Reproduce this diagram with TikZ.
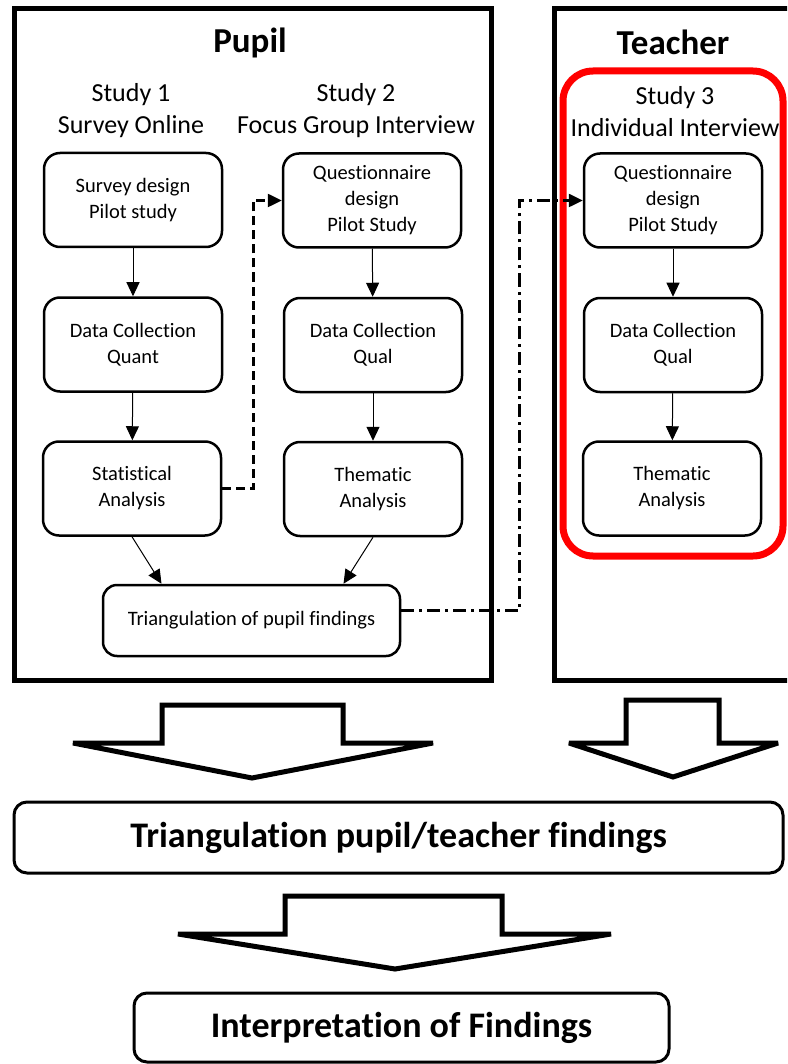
\documentclass[tikz,border=0pt]{standalone}
\usepackage{fontspec}
\setmainfont[Ligatures=NoCommon]{Carlito}
\usetikzlibrary{arrows.meta}
\definecolor{studyred}{RGB}{255,0,0}
\tikzset{
  frame/.style={draw, line width=5pt},
  box/.style={draw, line width=2.5pt, rounded corners=16pt, minimum width=178pt, minimum height=94pt, align=center, inner sep=0pt, font=\fontsize{20.5}{26}\selectfont},
  bigbox/.style={draw, line width=3pt, rounded corners=13pt, inner sep=0pt, font=\fontsize{36}{40}\selectfont\bfseries},
  title/.style={font=\fontsize{35}{40}\selectfont\bfseries},
  studylabel/.style={align=center, font=\fontsize{26}{32}\selectfont},
  arr/.style={line width=1pt, -{Triangle[length=14pt,width=13pt]}},
  dasharr/.style={line width=2.5pt, dash pattern=on 9pt off 5pt, -{Triangle[length=14pt,width=13pt]}},
  dotarr/.style={line width=2.5pt, dash pattern=on 13pt off 5pt on 3pt off 5pt, -{Triangle[length=14pt,width=13pt]}},
  blockarrow/.style={draw, line width=5pt, line join=miter, miter limit=1.5, fill=white},
}
\begin{document}
\begin{tikzpicture}[x=1pt,y=-1pt]
\path[use as bounding box] (0,0) rectangle (787,1064);
\clip (0,0) rectangle (787,1064);
\fill[white] (0,0) rectangle (787,1064);

% frames
\node[frame, minimum width=477pt, minimum height=671pt, inner sep=0pt] (pupilframe) at (252.5,344.5) {};
\node[frame, minimum width=260pt, minimum height=671pt, inner sep=0pt] (teacherframe) at (684,344.5) {};

% titles
\node[title] (pupiltitle) at (250,43) {Pupil};
\node[title] (teachertitle) at (673,42) {Teacher};

% red grouping box
\node[draw=studyred, line width=7pt, rounded corners=30pt, minimum width=220pt, minimum height=485pt, inner sep=0pt] (redbox) at (673,313.5) {};

% study labels
\node[studylabel] (st1) at (131,111) {Study 1\\Survey Online};
\node[studylabel] (st2) at (356,111) {Study 2\\Focus Group Interview};
\node[studylabel] (st3) at (675,112) {Study 3\\Individual Interview};

% study 1
\node[box] (s1a) at (133,200) {Survey design\\Pilot study};
\node[box] (s1b) at (133,344.5) {Data Collection\\Quant};
\node[box] (s1c) at (132,488.5) {Statistical\\Analysis};
% study 2
\node[box] (s2a) at (372,200.5) {Questionnaire\\design\\Pilot Study};
\node[box] (s2b) at (373,345) {Data Collection\\Qual};
\node[box] (s2c) at (373,489) {Thematic\\Analysis};
% study 3
\node[box] (s3a) at (673,200.5) {Questionnaire\\design\\Pilot Study};
\node[box] (s3b) at (673,345) {Data Collection\\Qual};
\node[box] (s3c) at (672,488.5) {Thematic\\Analysis};

% triangulation of pupil findings
\node[box, minimum width=297pt, minimum height=71pt, rounded corners=14pt] (tri) at (251.5,620.5) {Triangulation of pupil findings};

% thin arrows
\draw[arr] (s1a) -- (s1b);
\draw[arr] (s1b) -- (s1c);
\draw[arr] (s2a) -- (s2b);
\draw[arr] (s2b) -- (s2c);
\draw[arr] (s3a) -- (s3b);
\draw[arr] (s3b) -- (s3c);
\draw[arr] (s1c.south) -- ([xshift=-90pt]tri.north);
\draw[arr] (s2c.south) -- ([xshift=92pt]tri.north);

% dashed connectors
\draw[dasharr] (s1c.east) -- ([xshift=31pt]s1c.east) |- (s2a.west);
\draw[dotarr] ([yshift=10pt]tri.east) -- ([xshift=118pt,yshift=10pt]tri.east) |- (s3a.west);

% block arrows
\draw[blockarrow] (162,705) -- (343,705) -- (343,743) -- (433,743) -- (252,778) -- (73,743) -- (162,743) -- cycle;
\draw[blockarrow] (626,700) -- (719,700) -- (719,743) -- (778,743) -- (673,777) -- (569,743) -- (626,743) -- cycle;
\draw[blockarrow] (285,896) -- (502,896) -- (502,934) -- (611,934) -- (395,969) -- (178,934) -- (285,934) -- cycle;

% bottom boxes
\node[bigbox, minimum width=769pt, minimum height=71pt] (final1) at (398.5,837.5) {Triangulation pupil/teacher findings};
\node[bigbox, minimum width=535pt, minimum height=69pt] (final2) at (401.5,1027.5) {Interpretation of Findings};
\end{tikzpicture}
\end{document}
